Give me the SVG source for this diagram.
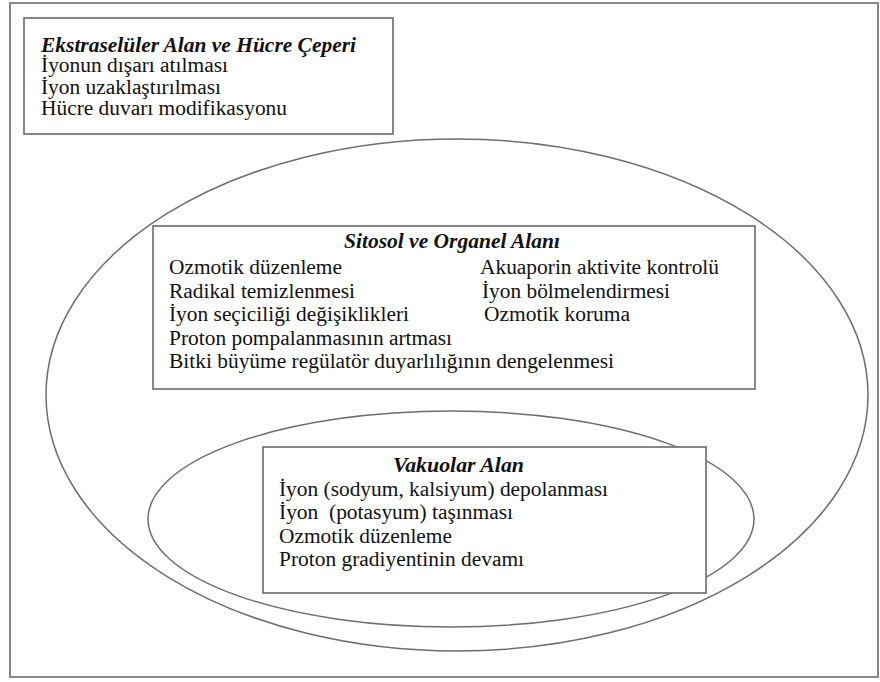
<svg xmlns="http://www.w3.org/2000/svg" width="880" height="682" viewBox="0 0 880 682">
<style>
.frame{fill:#fff;stroke:#8a8a8a;stroke-width:2}
.ell{fill:none;stroke:#6e6e6e;stroke-width:1.5}
.box{fill:#fff;stroke:#6a6a6a;stroke-width:1.6}
text{font-family:"Liberation Serif","Times New Roman",serif;font-size:20px;fill:#111}
.t{font-weight:bold;font-style:italic}
</style>
<rect x="0" y="0" width="880" height="682" fill="#fff"/>
<rect class="frame" x="10" y="3" width="868" height="674"/>
<g id="connectors"></g>
<g id="sitosol-ellipse"><ellipse class="ell" cx="457" cy="395" rx="411" ry="256"/></g>
<g id="vakuol-ellipse"><ellipse class="ell" cx="451" cy="519" rx="303" ry="108"/></g>
<g id="ekstraseluler">
<rect class="box" x="24" y="18" width="369" height="116"/>
<text class="t" x="41" y="52" textLength="315" lengthAdjust="spacingAndGlyphs">Ekstraselüler Alan ve Hücre Çeperi</text>
<text x="41" y="72" textLength="187" lengthAdjust="spacingAndGlyphs">İyonun dışarı atılması</text>
<text x="41" y="93.5" textLength="180" lengthAdjust="spacingAndGlyphs">İyon uzaklaştırılması</text>
<text x="41" y="115" textLength="246" lengthAdjust="spacingAndGlyphs">Hücre duvarı modifikasyonu</text>
</g>
<g id="sitosol">
<rect class="box" x="153" y="226" width="602" height="163"/>
<text class="t" x="344" y="248" textLength="216" lengthAdjust="spacingAndGlyphs">Sitosol ve Organel Alanı</text>
<text x="169" y="274" textLength="173" lengthAdjust="spacingAndGlyphs">Ozmotik düzenleme</text>
<text x="169" y="298" textLength="186" lengthAdjust="spacingAndGlyphs">Radikal temizlenmesi</text>
<text x="169" y="321" textLength="240" lengthAdjust="spacingAndGlyphs">İyon seçiciliği değişiklikleri</text>
<text x="169" y="345" textLength="283" lengthAdjust="spacingAndGlyphs">Proton pompalanmasının artması</text>
<text x="169" y="368" textLength="445" lengthAdjust="spacingAndGlyphs">Bitki büyüme regülatör duyarlılığının dengelenmesi</text>
<text x="480" y="274" textLength="239" lengthAdjust="spacingAndGlyphs">Akuaporin aktivite kontrolü</text>
<text x="482" y="298" textLength="188" lengthAdjust="spacingAndGlyphs">İyon bölmelendirmesi</text>
<text x="484" y="321" textLength="146" lengthAdjust="spacingAndGlyphs">Ozmotik koruma</text>
</g>
<g id="vakuolar">
<rect class="box" x="263" y="447" width="443" height="146"/>
<text class="t" x="393" y="472" textLength="131" lengthAdjust="spacingAndGlyphs">Vakuolar Alan</text>
<text x="279" y="496" textLength="329" lengthAdjust="spacingAndGlyphs">İyon (sodyum, kalsiyum) depolanması</text>
<text x="279" y="519" textLength="234" lengthAdjust="spacingAndGlyphs" xml:space="preserve">İyon  (potasyum) taşınması</text>
<text x="279" y="543" textLength="173" lengthAdjust="spacingAndGlyphs">Ozmotik düzenleme</text>
<text x="279" y="566" textLength="245" lengthAdjust="spacingAndGlyphs">Proton gradiyentinin devamı</text>
</g>
</svg>
